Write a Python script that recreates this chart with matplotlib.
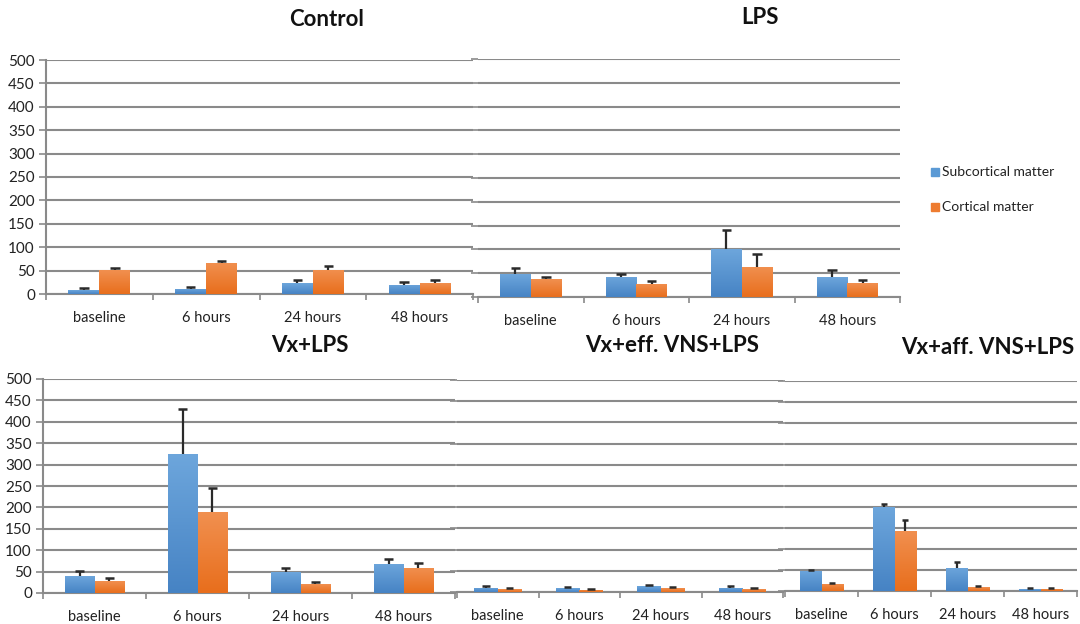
import numpy as np
import matplotlib
matplotlib.use("Agg")
import matplotlib.pyplot as plt
from matplotlib.colors import LinearSegmentedColormap
from matplotlib.ticker import FixedLocator

plt.rcParams["font.family"] = ["Lato", "DejaVu Sans"]

W, H = 1080, 624

timepoints = ["baseline", "6 hours", "24 hours", "48 hours"]
series_names = ["Subcortical matter", "Cortical matter"]

control_sub = [8, 11, 23, 20]
control_sub_err = [4, 4, 6, 6]
control_cort = [51, 67, 52, 23]
control_cort_err = [4, 3, 8, 6]

lps_sub = [48, 43, 100, 42]
lps_sub_err = [12, 5, 41, 14]
lps_cort = [37, 28, 64, 29]
lps_cort_err = [5, 5, 27, 6]

vx_sub = [39, 324, 48, 68]
vx_sub_err = [12, 105, 10, 12]
vx_cort = [27, 189, 21, 59]
vx_cort_err = [7, 56, 5, 11]

eff_sub = [10, 9, 14, 10]
eff_sub_err = [3, 3, 3, 3]
eff_cort = [6, 5, 9, 7]
eff_cort_err = [3, 2, 2, 2]

aff_sub = [48, 200, 55, 4]
aff_sub_err = [3, 8, 14, 2]
aff_cort = [17, 144, 9, 5]
aff_cort_err = [2, 25, 2, 2]

blue = "#5b9ad5"
orange = "#ee7c30"
blue_grad = LinearSegmentedColormap.from_list("bg", ["#4683c4", "#6da6dc"])
orange_grad = LinearSegmentedColormap.from_list("og", ["#e86e1c", "#f19050"])
grid_gray = "#8a8a8a"
err_color = "#2a2a2a"


def px_axes(fig, left, right, y_top, y_bottom):
    return fig.add_axes([left / W, (H - y_bottom) / H,
                         (right - left) / W, (y_bottom - y_top) / H])


def gradient_bars(ax, xs, heights, width, cmap):
    bars = ax.bar(xs, heights, width, color=cmap(0.5), zorder=3)
    grad = np.linspace(0, 1, 256).reshape(-1, 1)
    for b in bars:
        x0, y0 = b.get_x(), b.get_y()
        im = ax.imshow(grad, cmap=cmap, origin="lower", aspect="auto",
                       extent=[x0, x0 + b.get_width(), y0, y0 + b.get_height()],
                       zorder=3.1)
        im.set_clip_path(b)


def up_errors(ax, xs, tops, errs, cap=0.045):
    for xv, t, e in zip(xs, tops, errs):
        ax.plot([xv, xv], [t, t + e], color=err_color, lw=1.6, zorder=4,
                solid_capstyle="butt")
        ax.plot([xv - cap, xv + cap], [t + e, t + e], color=err_color, lw=1.8,
                zorder=4, solid_capstyle="butt")


def draw_panel(ax, sub, sub_err, cort, cort_err, show_ylabels=True):
    x = np.arange(len(timepoints))
    bw = 0.29
    gradient_bars(ax, x - bw / 2, sub, bw, blue_grad)
    gradient_bars(ax, x + bw / 2, cort, bw, orange_grad)
    up_errors(ax, x - bw / 2, sub, sub_err)
    up_errors(ax, x + bw / 2, cort, cort_err)

    ax.set_xlim(-0.5, len(timepoints) - 0.5)
    ax.set_ylim(0, 500)
    ax.set_yticks(np.arange(0, 501, 50))
    ax.yaxis.grid(True, color=grid_gray, linewidth=1.5)
    ax.set_axisbelow(True)

    ax.xaxis.set_major_locator(FixedLocator(x))
    ax.set_xticklabels(timepoints, fontsize=10.5, color="#222222")
    ax.tick_params(axis="x", which="major", length=0, pad=12)
    ax.xaxis.set_minor_locator(FixedLocator(np.arange(-0.5, len(timepoints), 1.0)))
    ax.tick_params(axis="x", which="minor", length=4, width=1.2, color=grid_gray)

    ax.tick_params(axis="y", length=5, width=1.2, color=grid_gray, pad=3,
                   labelsize=11, labelcolor="#222222")
    if not show_ylabels:
        ax.tick_params(axis="y", labelleft=False)
        ax.spines["left"].set_visible(False)

    for side in ["top", "right"]:
        ax.spines[side].set_visible(False)
    ax.spines["left"].set_color(grid_gray)
    ax.spines["left"].set_linewidth(1.5)
    ax.spines["bottom"].set_color(grid_gray)
    ax.spines["bottom"].set_linewidth(1.5)
    ax.patch.set_alpha(0)


fig = plt.figure(figsize=(W / 100, H / 100), dpi=100)

ax_ctrl = px_axes(fig, 46, 473, 60, 294)
draw_panel(ax_ctrl, control_sub, control_sub_err, control_cort, control_cort_err)

ax_lps = px_axes(fig, 478, 900, 59, 297)
draw_panel(ax_lps, lps_sub, lps_sub_err, lps_cort, lps_cort_err, show_ylabels=False)

ax_vx = px_axes(fig, 43, 455, 379, 593)
draw_panel(ax_vx, vx_sub, vx_sub_err, vx_cort, vx_cort_err)

ax_eff = px_axes(fig, 457, 783, 380, 592)
draw_panel(ax_eff, eff_sub, eff_sub_err, eff_cort, eff_cort_err, show_ylabels=False)

ax_aff = px_axes(fig, 785, 1077, 381, 591)
draw_panel(ax_aff, aff_sub, aff_sub_err, aff_cort, aff_cort_err, show_ylabels=False)

titles = [
    ("Control", 327, 20),
    ("LPS", 760, 18),
    ("Vx+LPS", 310, 345),
    ("Vx+eff. VNS+LPS", 672, 345),
    ("Vx+aff. VNS+LPS", 988, 347),
]
for text, tx, ty in titles:
    fig.text(tx / W, 1 - ty / H, text, ha="center", va="center",
             fontsize=16, fontweight="bold", color="#111111")

# legend drawn as squares + labels to the right of the LPS panel
for name, color, ly in zip(series_names, [blue, orange], [172, 207]):
    fig.patches.append(plt.Rectangle((931 / W, 1 - (ly + 4) / H), 8 / W, 8 / H,
                                     transform=fig.transFigure, color=color))
    fig.text(942 / W, 1 - ly / H, name, ha="left", va="center",
             fontsize=10, color="#222222")

fig.savefig("out.png", dpi=100)
